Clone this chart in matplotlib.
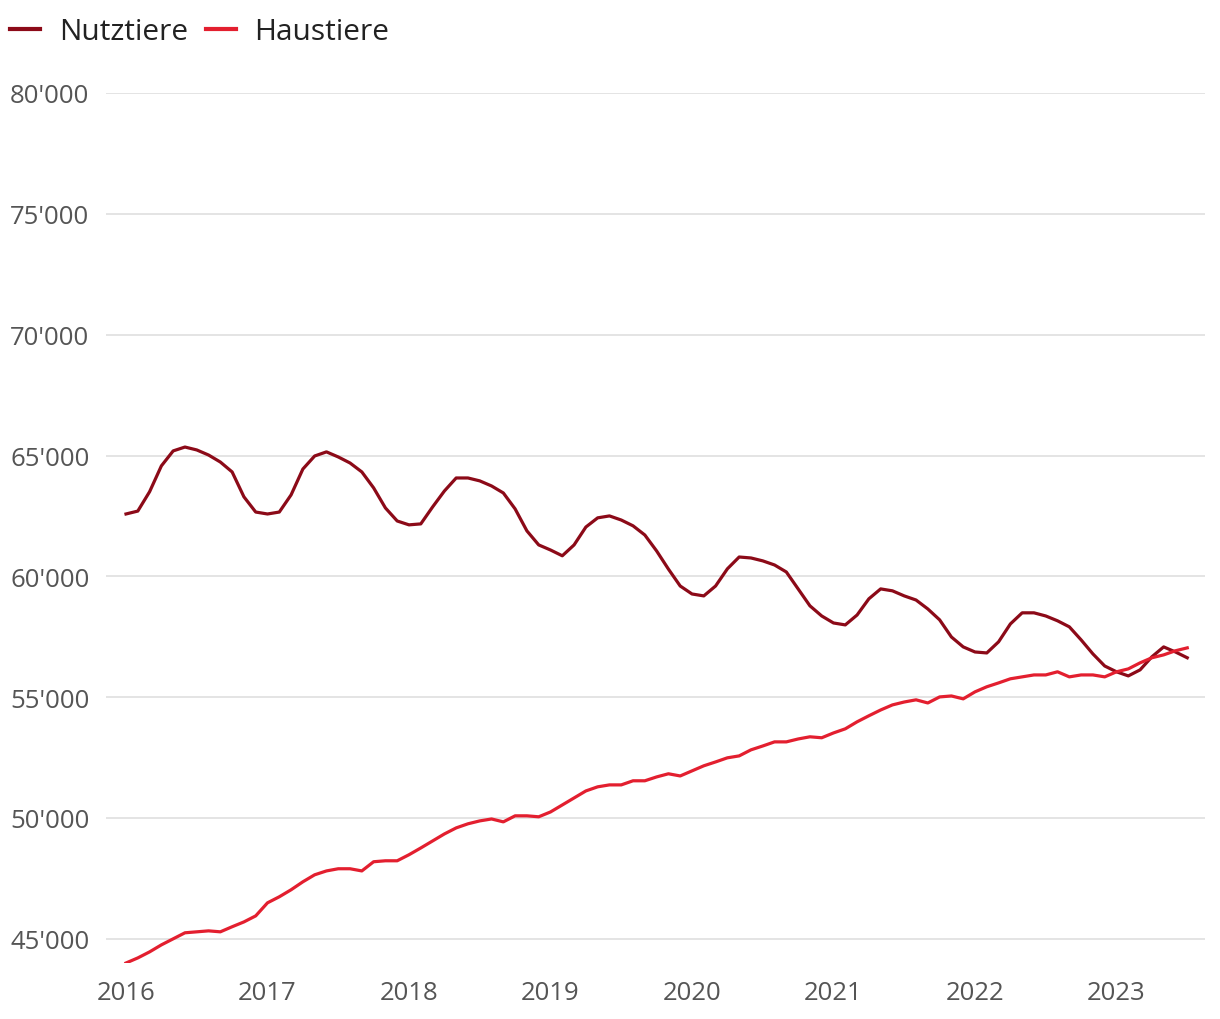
import matplotlib
matplotlib.use("Agg")
import matplotlib.pyplot as plt
from matplotlib.ticker import FuncFormatter
import numpy as np

plt.rcParams['font.family'] = ['Open Sans', 'DejaVu Sans']

start_year = 2016
year_ticks = [2016, 2017, 2018, 2019, 2020, 2021, 2022, 2023]
y_ticks = [45000, 50000, 55000, 60000, 65000, 70000, 75000, 80000]

nutztiere = [
    62580, 62700, 63500, 64570, 65190, 65350, 65230, 65020, 64730, 64320, 63290, 62660,
    62580, 62660, 63370, 64440, 64980, 65150, 64940, 64690, 64320, 63660, 62830, 62290,
    62130, 62170, 62870, 63530, 64070, 64070, 63950, 63740, 63450, 62790, 61880, 61300,
    61090, 60850, 61300, 62040, 62420, 62500, 62330, 62090, 61710, 61050, 60300, 59600,
    59270, 59190, 59600, 60310, 60800, 60760, 60640, 60470, 60180, 59480, 58780, 58360,
    58070, 57990, 58400, 59070, 59480, 59400, 59190, 59020, 58650, 58200, 57490, 57080,
    56870, 56830, 57290, 58030, 58490, 58490, 58360, 58160, 57910, 57370, 56790, 56290,
    56050, 55880, 56130, 56670, 57080, 56870, 56630,
]
haustiere = [
    44000, 44210, 44460, 44750, 45000, 45250, 45290, 45330, 45290, 45500, 45700, 45950,
    46490, 46740, 47030, 47360, 47650, 47810, 47900, 47900, 47810, 48190, 48230, 48230,
    48480, 48760, 49050, 49340, 49590, 49760, 49880, 49960, 49840, 50090, 50090, 50050,
    50250, 50540, 50830, 51120, 51290, 51370, 51370, 51540, 51540, 51700, 51830, 51740,
    51950, 52160, 52320, 52490, 52570, 52820, 52980, 53150, 53150, 53270, 53360, 53320,
    53520, 53690, 53980, 54230, 54470, 54680, 54800, 54890, 54760, 55010, 55050, 54930,
    55220, 55430, 55590, 55760, 55840, 55920, 55920, 56050, 55840, 55920, 55920, 55840,
    56050, 56170, 56420, 56630, 56750, 56920, 57040,
]

x = start_year + np.arange(len(nutztiere)) / 12.0

W, H = 1220, 1020
fig = plt.figure(figsize=(W / 100, H / 100), dpi=100)
left, right, top, bottom = 106, 1205, 94, 964
ax = fig.add_axes([left / W, 1 - bottom / H, (right - left) / W, (bottom - top) / H])

c_nutz = '#8c0a18'
c_haus = '#e31f2f'
ax.plot(x, nutztiere, color=c_nutz, lw=2.3, label='Nutztiere', solid_joinstyle='round', zorder=3)
ax.plot(x, haustiere, color=c_haus, lw=2.3, label='Haustiere', solid_joinstyle='round', zorder=3)

ax.set_xlim(2016 - 20 / 141.5, 2016 + 1079 / 141.5)
ax.set_ylim(44000, 80000)

ax.set_yticks(y_ticks)
ax.yaxis.set_major_formatter(FuncFormatter(lambda v, p: f"{v:,.0f}".replace(',', "'")))
ax.set_xticks(year_ticks)
ax.set_xticklabels([str(y) for y in year_ticks])

ax.grid(axis='y', color='#e2e2e2', lw=1.3)
ax.grid(axis='x', visible=False)
ax.set_axisbelow(True)
for s in ax.spines.values():
    s.set_visible(False)

ax.tick_params(axis='y', length=0, pad=69, labelsize=18.5, labelcolor='#555555')
ax.tick_params(axis='x', length=0, pad=12, labelsize=18.5, labelcolor='#555555')
for lab in ax.get_yticklabels():
    lab.set_horizontalalignment('left')
    lab.set_verticalalignment('center_baseline')

leg = fig.legend(loc='center left', bbox_to_anchor=(10 / W, 1 - 33 / H), ncol=2, frameon=False,
                 fontsize=21.5, handlelength=1.0, handletextpad=0.63, columnspacing=0.6,
                 borderpad=0, borderaxespad=0)
for t in leg.get_texts():
    t.set_color('#222222')
for l in leg.get_lines():
    l.set_linewidth(3)

fig.savefig('out.png', dpi=100, facecolor='white')
